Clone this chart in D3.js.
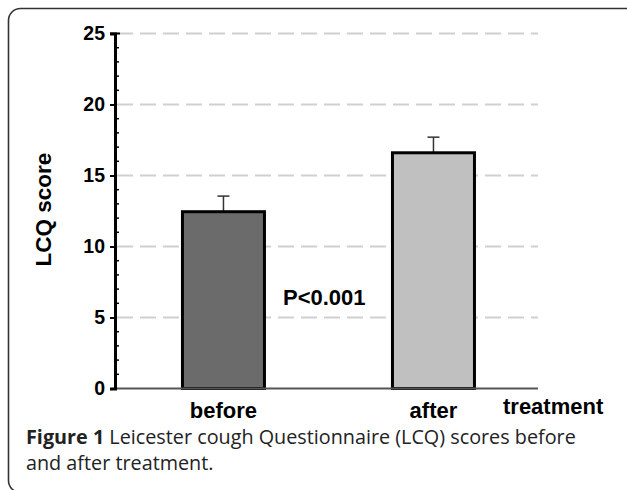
<!DOCTYPE html>
<html>
<head>
<meta charset="utf-8">
<script src="https://cdn.jsdelivr.net/npm/d3@7"></script>
<style>
  html, body { margin: 0; padding: 0; background: #fff; }
  svg { display: block; }
</style>
</head>
<body>
<svg id="chart" width="627" height="490"></svg>
<script>
// ---- data ----
const categories = ["before", "after"];
const meanScores = [12.45, 16.6];
const errorUpper = [1.1, 1.1];
const barColors = ["#6b6b6b", "#c0c0c0"];
const yTicks = [0, 5, 10, 15, 20, 25];
const yTitle = "LCQ score";
const xTitle = "treatment";
const pText = "P<0.001";
const captionBold = "Figure 1";
const captionLine1 = " Leicester cough Questionnaire (LCQ) scores before";
const captionLine2 = "and after treatment.";

// ---- layout ----
const svg = d3.select("#chart");
const axisX = 115, plotRight = 538, plotTop = 33.5, plotBottom = 388.5;
const font = "'Liberation Sans', Arial, Helvetica, sans-serif";

// frame
svg.append("rect")
  .attr("x", 8.5).attr("y", 8.5)
  .attr("width", 640).attr("height", 484)
  .attr("rx", 12).attr("ry", 12)
  .attr("fill", "none").attr("stroke", "#333").attr("stroke-width", 1.6);

const y = d3.scaleLinear().domain([0, 25]).range([plotBottom, plotTop]);
const x = d3.scaleBand().domain(categories)
  .range([axisX, plotRight])
  .paddingInner(0.6095).paddingOuter(0.3119).align(0.515);

// gridlines
svg.append("g").selectAll("line")
  .data(yTicks.filter(d => d > 0))
  .join("line")
  .attr("x1", axisX + 2).attr("x2", plotRight)
  .attr("y1", d => y(d)).attr("y2", d => y(d))
  .attr("stroke", "#d0d0d0").attr("stroke-width", 2)
  .attr("stroke-dasharray", "16,7");

// error bars
const eb = svg.append("g");
categories.forEach((c, i) => {
  const cx = x(c) + x.bandwidth() / 2;
  eb.append("line")
    .attr("x1", cx).attr("x2", cx)
    .attr("y1", y(meanScores[i])).attr("y2", y(meanScores[i] + errorUpper[i]))
    .attr("stroke", "#333").attr("stroke-width", 1.5);
  eb.append("line")
    .attr("x1", cx - 6).attr("x2", cx + 6)
    .attr("y1", y(meanScores[i] + errorUpper[i])).attr("y2", y(meanScores[i] + errorUpper[i]))
    .attr("stroke", "#333").attr("stroke-width", 1.5);
});

// bars
svg.append("g").selectAll("rect")
  .data(categories)
  .join("rect")
  .attr("x", d => x(d))
  .attr("width", x.bandwidth())
  .attr("y", (d, i) => y(meanScores[i]))
  .attr("height", (d, i) => y(0) - y(meanScores[i]))
  .attr("fill", (d, i) => barColors[i])
  .attr("stroke", "#000").attr("stroke-width", 3);

// x axis baseline
svg.append("line")
  .attr("x1", axisX).attr("x2", plotRight)
  .attr("y1", y(0)).attr("y2", y(0))
  .attr("stroke", "#555").attr("stroke-width", 2);

// y axis
const yAxis = d3.axisLeft(y).tickValues(yTicks).tickSize(5).tickPadding(5).tickFormat(d3.format("d"));
const ya = svg.append("g").attr("transform", `translate(${axisX},0)`).call(yAxis);
ya.select(".domain").attr("stroke", "#000").attr("stroke-width", 3);
ya.selectAll(".tick line").attr("stroke", "#000").attr("stroke-width", 2);
ya.selectAll(".tick text")
  .attr("font-family", font).attr("font-weight", "bold")
  .attr("font-size", 19.5).attr("fill", "#000");
// minor ticks
const minor = d3.range(1, 25).filter(d => d % 5 !== 0);
svg.append("g").selectAll("line").data(minor).join("line")
  .attr("x1", axisX).attr("x2", axisX + 4)
  .attr("y1", d => y(d)).attr("y2", d => y(d))
  .attr("stroke", "#000").attr("stroke-width", 1.5);
// top cap
svg.append("line")
  .attr("x1", axisX - 5).attr("x2", axisX + 5)
  .attr("y1", y(25)).attr("y2", y(25))
  .attr("stroke", "#000").attr("stroke-width", 2);

// y title
svg.append("text")
  .attr("transform", `translate(51, ${y(12.6)}) rotate(-90)`)
  .attr("text-anchor", "middle")
  .attr("font-family", font).attr("font-weight", "bold")
  .attr("font-size", 22.5).attr("fill", "#000")
  .text(yTitle);

// category labels
svg.append("g").selectAll("text").data(categories).join("text")
  .attr("x", d => x(d) + x.bandwidth() / 2)
  .attr("y", 418)
  .attr("text-anchor", "middle")
  .attr("font-family", font).attr("font-weight", "bold")
  .attr("font-size", 22).attr("fill", "#000")
  .text(d => d);

svg.append("text")
  .attr("x", 503).attr("y", 414)
  .attr("font-family", font).attr("font-weight", "bold")
  .attr("font-size", 22).attr("fill", "#000")
  .text(xTitle);

// p value
svg.append("text")
  .attr("x", 283).attr("y", 305)
  .attr("font-family", font).attr("font-weight", "bold")
  .attr("font-size", 22).attr("fill", "#000")
  .text(pText);

// caption
const capFont = "'Open Sans', 'Noto Sans', sans-serif";
const cap1 = svg.append("text")
  .attr("x", 26).attr("y", 444)
  .attr("font-family", capFont).attr("font-size", 19.8).attr("fill", "#222");
cap1.append("tspan").attr("font-weight", "bold").text(captionBold);
cap1.append("tspan").text(captionLine1);
svg.append("text")
  .attr("x", 26).attr("y", 470)
  .attr("font-family", capFont).attr("font-size", 19.8).attr("fill", "#222")
  .text(captionLine2);
</script>
</body>
</html>
